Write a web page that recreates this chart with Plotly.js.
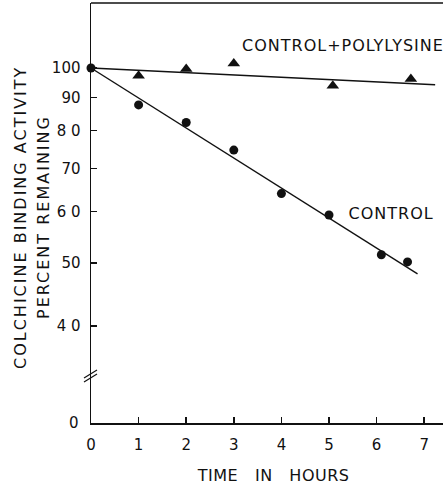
<!DOCTYPE html>
<html>
<head>
<meta charset="utf-8">
<script src="https://cdn.plot.ly/plotly-3.0.1.min.js"></script>
<style>
html, body { margin: 0; padding: 0; background: #fff; }
#chart { width: 443px; height: 487px; }
#chart g.annotation[data-index="0"] text,
#chart g.annotation[data-index="1"] text { letter-spacing: 1px; }
#chart g.annotation[data-index="2"] text,
#chart g.annotation[data-index="3"] text { letter-spacing: 2px; }
#chart g.annotation[data-index="4"] text { letter-spacing: 0.5px; }
</style>
</head>
<body>
<div id="chart"></div>
<script>
// ---- data ----
const controlHours = [0, 1, 2, 3, 4, 5, 6.1, 6.65];
const controlPercent = [100, 87.7, 82.4, 74.7, 64.0, 59.3, 51.5, 50.2];

const polyHours = [1, 2, 3, 5.08, 6.72];
const polyPercent = [97.3, 99.6, 101.6, 93.9, 96.2];

const controlFitHours = [0, 6.86];
const controlFitPercent = [100, 48.1];
const polyFitHours = [0, 7.23];
const polyFitPercent = [100, 94.2];

const xTicks = [0, 1, 2, 3, 4, 5, 6, 7];
const yTicks = [40, 50, 60, 70, 80, 90, 100];
const yTickText = ['4 0', '50', '6 0', '70', '8 0', '90', '100'];
const yZeroTick = [0];

// ---- styling ----
const FONT = 'DejaVu Sans, sans-serif';
const INK = '#111111';
const W = 443, H = 487;
const M = {l: 91, r: 0, t: 3, b: 64};
const PW = W - M.l - M.r, PH = H - M.t - M.b;
const px = (x) => (x - M.l) / PW;         // pixel -> paper x
const py = (y) => (H - M.b - y) / PH;     // pixel -> paper y
const splitY = py(380);

const traces = [
  // empty trace so the lower (zero) subplot exists
  {x: [], y: [], mode: 'markers', xaxis: 'x', yaxis: 'y2', hoverinfo: 'skip', showlegend: false},
  {x: controlFitHours, y: controlFitPercent, mode: 'lines', xaxis: 'x', yaxis: 'y',
   line: {color: INK, width: 1.4}, hoverinfo: 'skip', showlegend: false},
  {x: polyFitHours, y: polyFitPercent, mode: 'lines', xaxis: 'x', yaxis: 'y',
   line: {color: INK, width: 1.4}, hoverinfo: 'skip', showlegend: false},
  {x: controlHours, y: controlPercent, mode: 'markers', name: 'CONTROL', xaxis: 'x', yaxis: 'y',
   marker: {symbol: 'circle', size: 9, color: INK}, cliponaxis: false},
  {x: polyHours, y: polyPercent, mode: 'markers', name: 'CONTROL+POLYLYSINE', xaxis: 'x', yaxis: 'y',
   marker: {symbol: 'triangle-up', size: 11, color: INK}, cliponaxis: false}
];

const breakShape = (dy) => ({
  type: 'line', xref: 'paper', yref: 'paper',
  x0: px(84), x1: px(97), y0: py(382 + dy), y1: py(374 + dy),
  line: {color: INK, width: 1.3}
});

const layout = {
  width: W, height: H,
  margin: M,
  paper_bgcolor: '#fff', plot_bgcolor: 'rgba(0,0,0,0)',
  showlegend: false,
  font: {family: FONT, color: INK, size: 15},
  xaxis: {
    range: [0, PW / 47.6], anchor: 'y2', domain: [0, 1],
    tickvals: xTicks, ticktext: xTicks.map(String),
    ticks: 'inside', ticklen: 6, tickwidth: 1.5, tickcolor: INK,
    showline: true, linecolor: INK, linewidth: 1.5,
    showgrid: false, zeroline: false,
    tickfont: {family: FONT, size: 15, color: INK},
    ticklabelstandoff: 7
  },
  yaxis: {
    type: 'log', range: [1.5185, 2.1003], domain: [splitY, 1], anchor: 'x',
    tickvals: yTicks, ticktext: yTickText,
    ticks: 'inside', ticklen: 6, tickwidth: 1.3, tickcolor: INK,
    showline: true, linecolor: INK, linewidth: 1.5,
    showgrid: false, zeroline: false,
    tickfont: {family: FONT, size: 15, color: INK},
    ticklabelstandoff: 6
  },
  yaxis2: {
    range: [0, 1], domain: [0, splitY], anchor: 'x',
    tickvals: yZeroTick, ticktext: ['0'],
    ticks: '', showline: true, linecolor: INK, linewidth: 1.5,
    showgrid: false, zeroline: false,
    tickfont: {family: FONT, size: 15, color: INK},
    ticklabelstandoff: 8
  },
  shapes: [
    {type: 'line', xref: 'paper', yref: 'paper', x0: 0, x1: 1, y0: 1, y1: 1,
     line: {color: INK, width: 1.5}},
    breakShape(0), breakShape(-4)
  ],
  annotations: [
    {text: 'CONTROL+POLYLYSINE', xref: 'paper', yref: 'paper', x: px(249), y: py(46),
     xanchor: 'left', yanchor: 'middle', showarrow: false, font: {family: FONT, size: 16, color: INK}},
    {text: 'CONTROL', xref: 'paper', yref: 'paper', x: px(350), y: py(213),
     xanchor: 'left', yanchor: 'middle', showarrow: false, font: {family: FONT, size: 16, color: INK}},
    {text: 'COLCHICINE BINDING ACTIVITY', xref: 'paper', yref: 'paper', x: px(20), y: py(217),
     xanchor: 'center', yanchor: 'middle', textangle: -90, showarrow: false,
     font: {family: FONT, size: 16, color: INK}},
    {text: 'PERCENT REMAINING', xref: 'paper', yref: 'paper', x: px(43), y: py(217),
     xanchor: 'center', yanchor: 'middle', textangle: -90, showarrow: false,
     font: {family: FONT, size: 16, color: INK}},
    {text: 'TIME\u00a0\u00a0 IN\u00a0\u00a0 HOURS', xref: 'paper', yref: 'paper', x: px(273), y: py(475),
     xanchor: 'center', yanchor: 'middle', showarrow: false,
     font: {family: FONT, size: 16, color: INK}}
  ]
};

Plotly.newPlot('chart', traces, layout, {staticPlot: true, displayModeBar: false});
</script>
</body>
</html>
